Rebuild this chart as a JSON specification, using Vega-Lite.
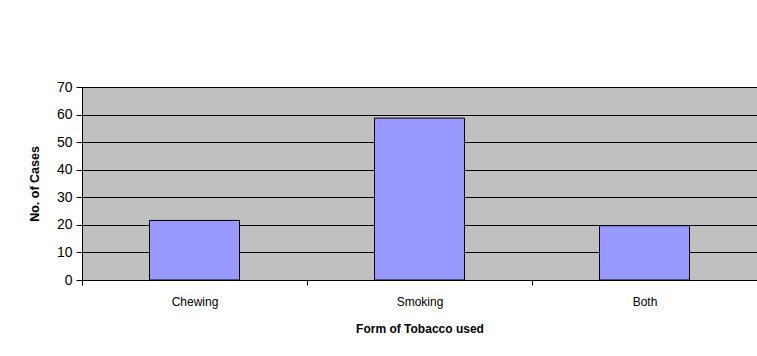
{
  "$schema": "https://vega.github.io/schema/vega-lite/v6.json",
  "autosize": {"type": "none"},
  "padding": {"left": 82, "top": 87, "right": 0, "bottom": 76},
  "width": 675,
  "height": 193,
  "background": "white",
  "config": {
    "font": "Liberation Sans",
    "view": {"fill": "#C0C0C0", "stroke": "#808080", "strokeWidth": 1}
  },
  "data": {
    "values": [
      {"form": "Chewing", "cases": 21.6},
      {"form": "Smoking", "cases": 58.7},
      {"form": "Both", "cases": 19.7}
    ]
  },
  "mark": {"type": "bar", "width": {"band": 0.4}, "fill": "#9999FF", "stroke": "#000000", "strokeWidth": 1},
  "encoding": {
    "x": {
      "field": "form",
      "type": "nominal",
      "sort": null,
      "scale": {"paddingInner": 0, "paddingOuter": 0},
      "axis": {
        "title": "Form of Tobacco used",
        "titleFontSize": 12,
        "titleFontWeight": "bold",
        "titleColor": "#000",
        "titlePadding": 16,
        "labelAngle": 0,
        "labelFontSize": 12,
        "labelColor": "#000",
        "labelPadding": 11,
        "tickBand": "extent",
        "tickColor": "#000",
        "tickSize": 5,
        "domainColor": "#000",
        "grid": false
      }
    },
    "y": {
      "field": "cases",
      "type": "quantitative",
      "scale": {"domain": [0, 70], "nice": false},
      "axis": {
        "title": "No. of Cases",
        "titleFontSize": 12.5,
        "titleFontWeight": "bold",
        "titleColor": "#000",
        "titlePadding": 15,
        "values": [0, 10, 20, 30, 40, 50, 60, 70],
        "labelFontSize": 14,
        "labelColor": "#000",
        "labelPadding": 4,
        "tickColor": "#000",
        "tickSize": 6,
        "domainColor": "#000",
        "grid": true,
        "gridColor": "#000",
        "gridOpacity": 1,
        "gridWidth": 1
      }
    }
  }
}
